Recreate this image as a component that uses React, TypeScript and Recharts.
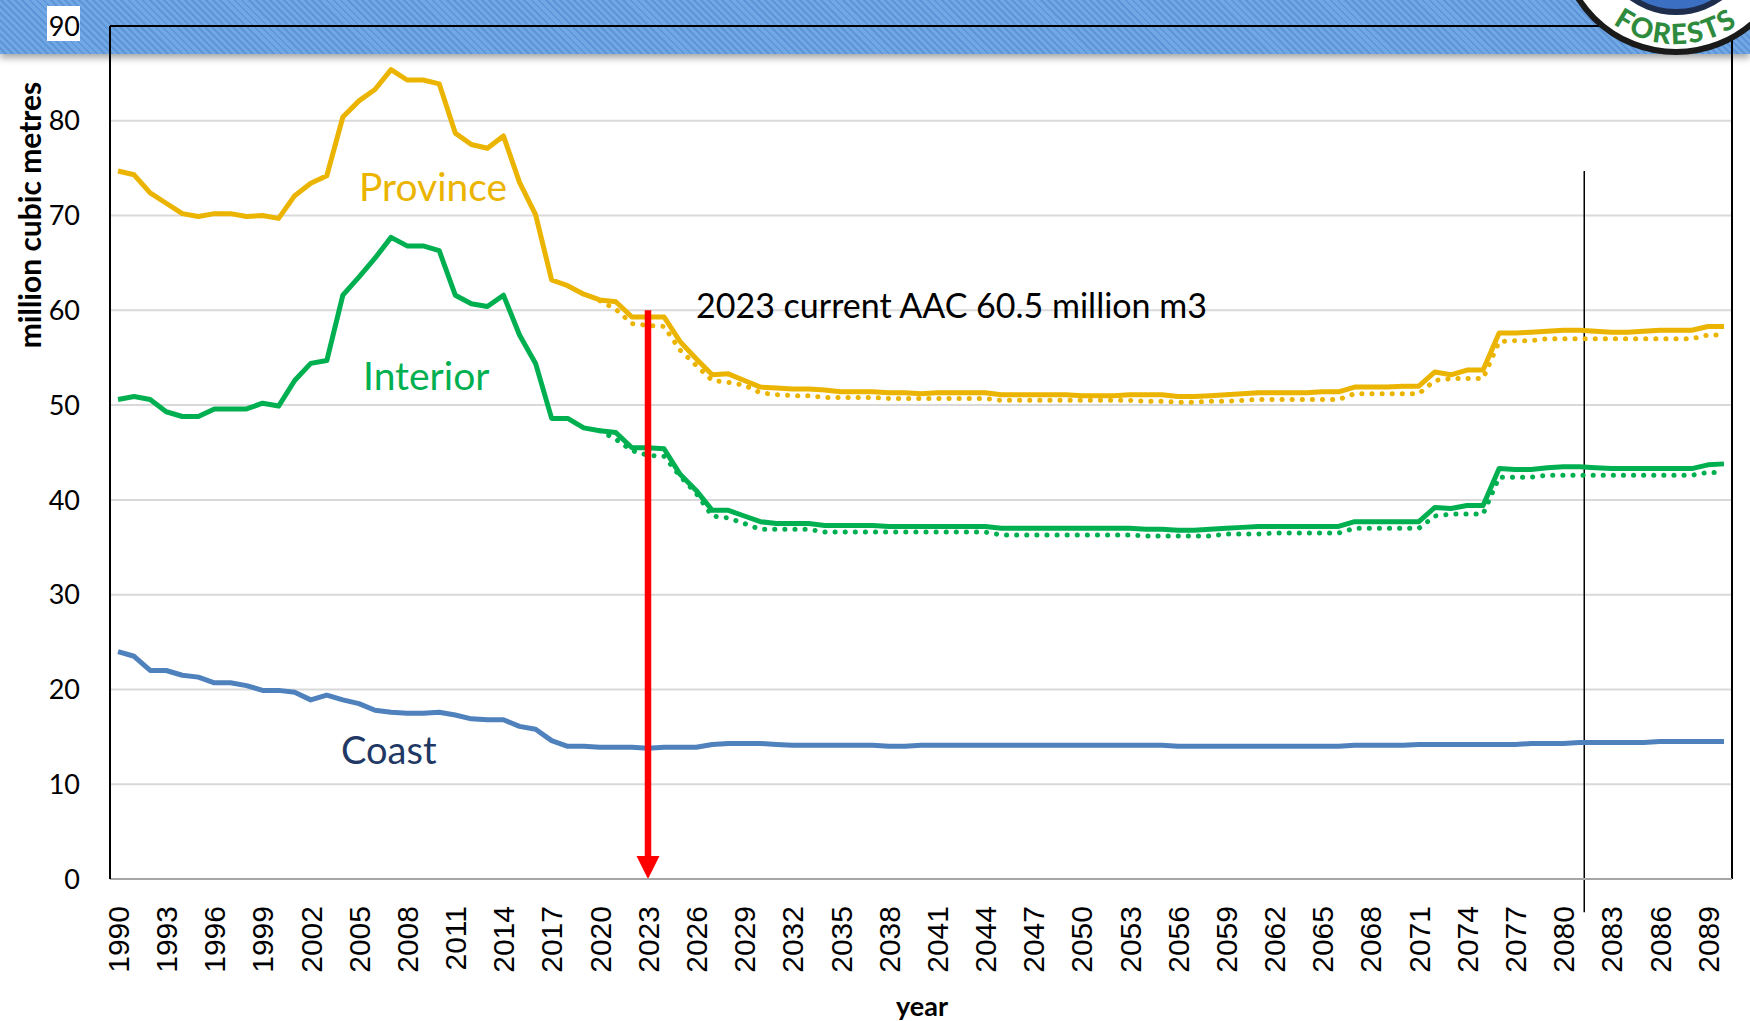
import React from 'react';
import { LineChart, Line, XAxis, YAxis, CartesianGrid, ReferenceLine } from 'recharts';

// harvest level by year, 1990 - 2090 (million m3)
const province = [
  74.7, 74.3, 72.4, 71.3, 70.2, 69.9, 70.2, 70.2, 69.9, 70.0,
  69.7, 72.1, 73.4, 74.2, 80.4, 82.1, 83.3, 85.4, 84.3, 84.3,
  83.9, 78.7, 77.5, 77.1, 78.4, 73.5, 70.1, 63.2, 62.6, 61.7,
  61.1, 60.9, 59.3, 59.3, 59.3, 56.7, 54.9, 53.2, 53.3, 52.6,
  51.9, 51.8, 51.7, 51.7, 51.6, 51.4, 51.4, 51.4, 51.3, 51.3,
  51.2, 51.3, 51.3, 51.3, 51.3, 51.1, 51.1, 51.1, 51.1, 51.1,
  51.0, 51.0, 51.0, 51.1, 51.1, 51.1, 50.9, 50.9, 51.0, 51.1,
  51.2, 51.3, 51.3, 51.3, 51.3, 51.4, 51.4, 51.9, 51.9, 51.9,
  52.0, 52.0, 53.5, 53.2, 53.7, 53.7, 57.6, 57.6, 57.7, 57.8,
  57.9, 57.9, 57.8, 57.7, 57.7, 57.8, 57.9, 57.9, 57.9, 58.3,
  58.3,
];

const interior = [
  50.6, 50.9, 50.6, 49.3, 48.8, 48.8, 49.6, 49.6, 49.6, 50.2,
  49.9, 52.6, 54.4, 54.7, 61.6, 63.5, 65.5, 67.7, 66.8, 66.8,
  66.3, 61.6, 60.7, 60.4, 61.6, 57.4, 54.4, 48.6, 48.6, 47.6,
  47.3, 47.1, 45.5, 45.5, 45.4, 42.7, 41.0, 38.9, 38.9, 38.3,
  37.7, 37.5, 37.5, 37.5, 37.3, 37.3, 37.3, 37.3, 37.2, 37.2,
  37.2, 37.2, 37.2, 37.2, 37.2, 37.0, 37.0, 37.0, 37.0, 37.0,
  37.0, 37.0, 37.0, 37.0, 36.9, 36.9, 36.8, 36.8, 36.9, 37.0,
  37.1, 37.2, 37.2, 37.2, 37.2, 37.2, 37.2, 37.7, 37.7, 37.7,
  37.7, 37.7, 39.2, 39.1, 39.4, 39.4, 43.3, 43.2, 43.2, 43.4,
  43.5, 43.5, 43.4, 43.3, 43.3, 43.3, 43.3, 43.3, 43.3, 43.7,
  43.8,
];

const coast = [
  24.0, 23.5, 22.0, 22.0, 21.5, 21.3, 20.7, 20.7, 20.4, 19.9,
  19.9, 19.7, 18.9, 19.4, 18.9, 18.5, 17.8, 17.6, 17.5, 17.5,
  17.6, 17.3, 16.9, 16.8, 16.8, 16.1, 15.8, 14.6, 14.0, 14.0,
  13.9, 13.9, 13.9, 13.8, 13.9, 13.9, 13.9, 14.2, 14.3, 14.3,
  14.3, 14.2, 14.1, 14.1, 14.1, 14.1, 14.1, 14.1, 14.0, 14.0,
  14.1, 14.1, 14.1, 14.1, 14.1, 14.1, 14.1, 14.1, 14.1, 14.1,
  14.1, 14.1, 14.1, 14.1, 14.1, 14.1, 14.0, 14.0, 14.0, 14.0,
  14.0, 14.0, 14.0, 14.0, 14.0, 14.0, 14.0, 14.1, 14.1, 14.1,
  14.1, 14.2, 14.2, 14.2, 14.2, 14.2, 14.2, 14.2, 14.3, 14.3,
  14.3, 14.4, 14.4, 14.4, 14.4, 14.4, 14.5, 14.5, 14.5, 14.5,
  14.5,
];

// alternative (dotted) projections, 2020 - 2090
const altStart = 2020;
const provinceAlt = [
  61.0, 60.1, 58.6, 58.4, 58.3, 55.8, 54.2, 52.6, 52.4, 52.1,
  51.3, 51.1, 51.0, 51.0, 50.8, 50.8, 50.8, 50.8, 50.7, 50.7,
  50.7, 50.7, 50.7, 50.7, 50.7, 50.5, 50.5, 50.5, 50.5, 50.5,
  50.5, 50.5, 50.5, 50.5, 50.4, 50.4, 50.3, 50.3, 50.4, 50.4,
  50.5, 50.6, 50.6, 50.6, 50.6, 50.6, 50.6, 51.2, 51.2, 51.2,
  51.2, 51.2, 52.6, 52.8, 52.8, 52.8, 56.7, 56.8, 56.8, 57.0,
  57.0, 57.0, 57.0, 57.0, 57.0, 57.0, 57.0, 57.0, 57.0, 57.4,
  57.4,
];
const interiorAlt = [
  47.3, 46.4, 45.2, 44.7, 44.6, 42.5, 40.7, 38.3, 38.1, 37.5,
  36.9, 36.9, 36.9, 36.9, 36.6, 36.6, 36.6, 36.6, 36.6, 36.6,
  36.6, 36.6, 36.6, 36.6, 36.6, 36.3, 36.3, 36.3, 36.3, 36.3,
  36.3, 36.3, 36.3, 36.3, 36.2, 36.2, 36.2, 36.2, 36.2, 36.4,
  36.4, 36.4, 36.5, 36.5, 36.5, 36.5, 36.5, 37.0, 37.0, 37.0,
  37.0, 37.0, 38.3, 38.5, 38.5, 38.5, 42.4, 42.4, 42.4, 42.6,
  42.6, 42.6, 42.6, 42.6, 42.6, 42.6, 42.6, 42.6, 42.6, 42.9,
  42.9,
];

const firstYear = 1990;
const xTicks = [
  1990, 1993, 1996, 1999, 2002, 2005, 2008, 2011, 2014, 2017, 2020, 2023, 2026, 2029, 2032, 2035, 2038,
  2041, 2044, 2047, 2050, 2053, 2056, 2059, 2062, 2065, 2068, 2071, 2074, 2077, 2080, 2083, 2086, 2089,
];
const yTicks = [0, 10, 20, 30, 40, 50, 60, 70, 80, 90];

const aacYear = 2023;
const aacValue = 60;
const markerYear = 2081.3;

const data = province.map((p, i) => {
  const year = firstYear + i;
  const j = year - altStart;
  return {
    year,
    province: p,
    interior: interior[i],
    coast: coast[i],
    provinceAlt: j >= 0 ? provinceAlt[j] : null,
    interiorAlt: j >= 0 ? interiorAlt[j] : null,
  };
});

const GOLD = '#EBB400';
const GREEN = '#00B050';
const BLUE = '#4F81BD';
const CAL = 'Lato, "Open Sans", sans-serif';

const XTick = ({ x, y, payload }: any) => (
  <text
    transform={`translate(${x},${y}) rotate(-90)`}
    textAnchor="end"
    dy="0.36em"
    fontFamily='"Liberation Sans", Arial, sans-serif'
    fontSize={30}
    fill="#000"
  >
    {payload.value}
  </text>
);

const YTick = ({ x, y, payload }: any) => (
  <g>
    {payload.value === 90 && <rect x={x - 33} y={y - 20} width={33} height={35} fill="#fff" />}
    <text x={x} y={y} dy="0.36em" textAnchor="end" fontFamily={CAL} fontSize={27} fill="#000">
      {payload.value}
    </text>
  </g>
);

const RedArrow = (p: any) => {
  const { x1, y1, x2, y2 } = p;
  const head = 23;
  return (
    <g>
      <line x1={x1} y1={y1} x2={x2} y2={y2 - head + 2} stroke="#FF0000" strokeWidth={6.5} />
      <polygon points={`${x2 - 11.5},${y2 - head} ${x2 + 11.5},${y2 - head} ${x2},${y2}`} fill="#FF0000" />
    </g>
  );
};

export default function App() {
  return (
    <div style={{ position: 'absolute', left: 0, top: 0, width: 1750, height: 1021, background: '#fff', overflow: 'hidden' }}>
      {/* hatched header band */}
      <div
        style={{
          position: 'absolute', left: 0, top: 0, width: 1750, height: 54,
          background: 'repeating-linear-gradient(45deg, #70A7E5 0px, #70A7E5 3px, #5F95D8 3px, #5F95D8 5px)',
          boxShadow: '0 4px 7px rgba(0,0,0,0.35)',
        }}
      />
      <div style={{ position: 'absolute', left: 0, top: 0 }}>
        <LineChart width={1750} height={1021} data={data} margin={{ top: 26, right: 18, bottom: 42, left: 0 }}>
          <CartesianGrid vertical={false} stroke="#D9D9D9" strokeWidth={2} />
          <XAxis
            dataKey="year"
            type="number"
            domain={[1989.5, 2090.5]}
            ticks={xTicks}
            interval={0}
            height={100}
            allowDataOverflow
            axisLine={{ stroke: '#A6A6A6', strokeWidth: 2 }}
            tickLine={false}
            tickMargin={21}
            tick={<XTick />}
          />
          <YAxis
            domain={[0, 90]}
            ticks={yTicks}
            width={110}
            axisLine={{ stroke: '#000', strokeWidth: 2 }}
            tickLine={false}
            tickMargin={24}
            tick={<YTick />}
          />
          <ReferenceLine y={90} stroke="#000" strokeWidth={2} />
          <ReferenceLine x={2090.5} stroke="#000" strokeWidth={2} />
          <ReferenceLine
            segment={[{ x: markerYear, y: 74.7 }, { x: markerYear, y: -3.5 }]}
            ifOverflow="visible"
            stroke="#000"
            strokeWidth={1.5}
          />
          <Line dataKey="interiorAlt" stroke={GREEN} strokeWidth={5} strokeDasharray="0.1 10" strokeLinecap="round" dot={false} isAnimationActive={false} />
          <Line dataKey="provinceAlt" stroke={GOLD} strokeWidth={5} strokeDasharray="0.1 10" strokeLinecap="round" dot={false} isAnimationActive={false} />
          <Line dataKey="coast" stroke={BLUE} strokeWidth={5} strokeLinejoin="round" dot={false} isAnimationActive={false} />
          <Line dataKey="interior" stroke={GREEN} strokeWidth={5} strokeLinejoin="round" dot={false} isAnimationActive={false} />
          <Line dataKey="province" stroke={GOLD} strokeWidth={5} strokeLinejoin="round" dot={false} isAnimationActive={false} />
          <ReferenceLine
            segment={[{ x: aacYear, y: aacValue }, { x: aacYear, y: 0 }]}
            shape={<RedArrow />}
          />
        </LineChart>
      </div>
      <svg width={1750} height={1021} style={{ position: 'absolute', left: 0, top: 0, pointerEvents: 'none' }}>
        <text x={359} y={201} fontFamily={CAL} fontSize={39} fill={GOLD}>Province</text>
        <text x={363} y={390} fontFamily={CAL} fontSize={39} fill={GREEN}>Interior</text>
        <text x={341} y={764} fontFamily={CAL} fontSize={38} fill="#1F3864">Coast</text>
        <text x={696} y={318} fontFamily={CAL} fontSize={34} fill="#000">2023 current AAC 60.5 million m3</text>
        <text transform="translate(30,215) rotate(-90)" textAnchor="middle" dy="0.35em" fontFamily={CAL} fontWeight={700} fontSize={30} fill="#000">
          million cubic metres
        </text>
        <text x={922} y={1016} textAnchor="middle" fontFamily={CAL} fontWeight={700} fontSize={27} fill="#000">year</text>
        {/* logo corner */}
        <circle cx={1676} cy={-64} r={116} fill="#fff" stroke="#1a1a1a" strokeWidth={6} />
        <circle cx={1676} cy={-64} r={76} fill="#3B6FC2" stroke="#1F2D4D" strokeWidth={6} />
        <path id="logoArc" d="M 1568 -64 A 108 108 0 0 0 1784 -64" fill="none" />
        <text fontFamily={CAL} fontWeight={900} fontSize={28} fill="#2E8B3E" letterSpacing={2}>
          <textPath href="#logoArc" startOffset="50%" textAnchor="middle">FORESTS</textPath>
        </text>
      </svg>
    </div>
  );
}
